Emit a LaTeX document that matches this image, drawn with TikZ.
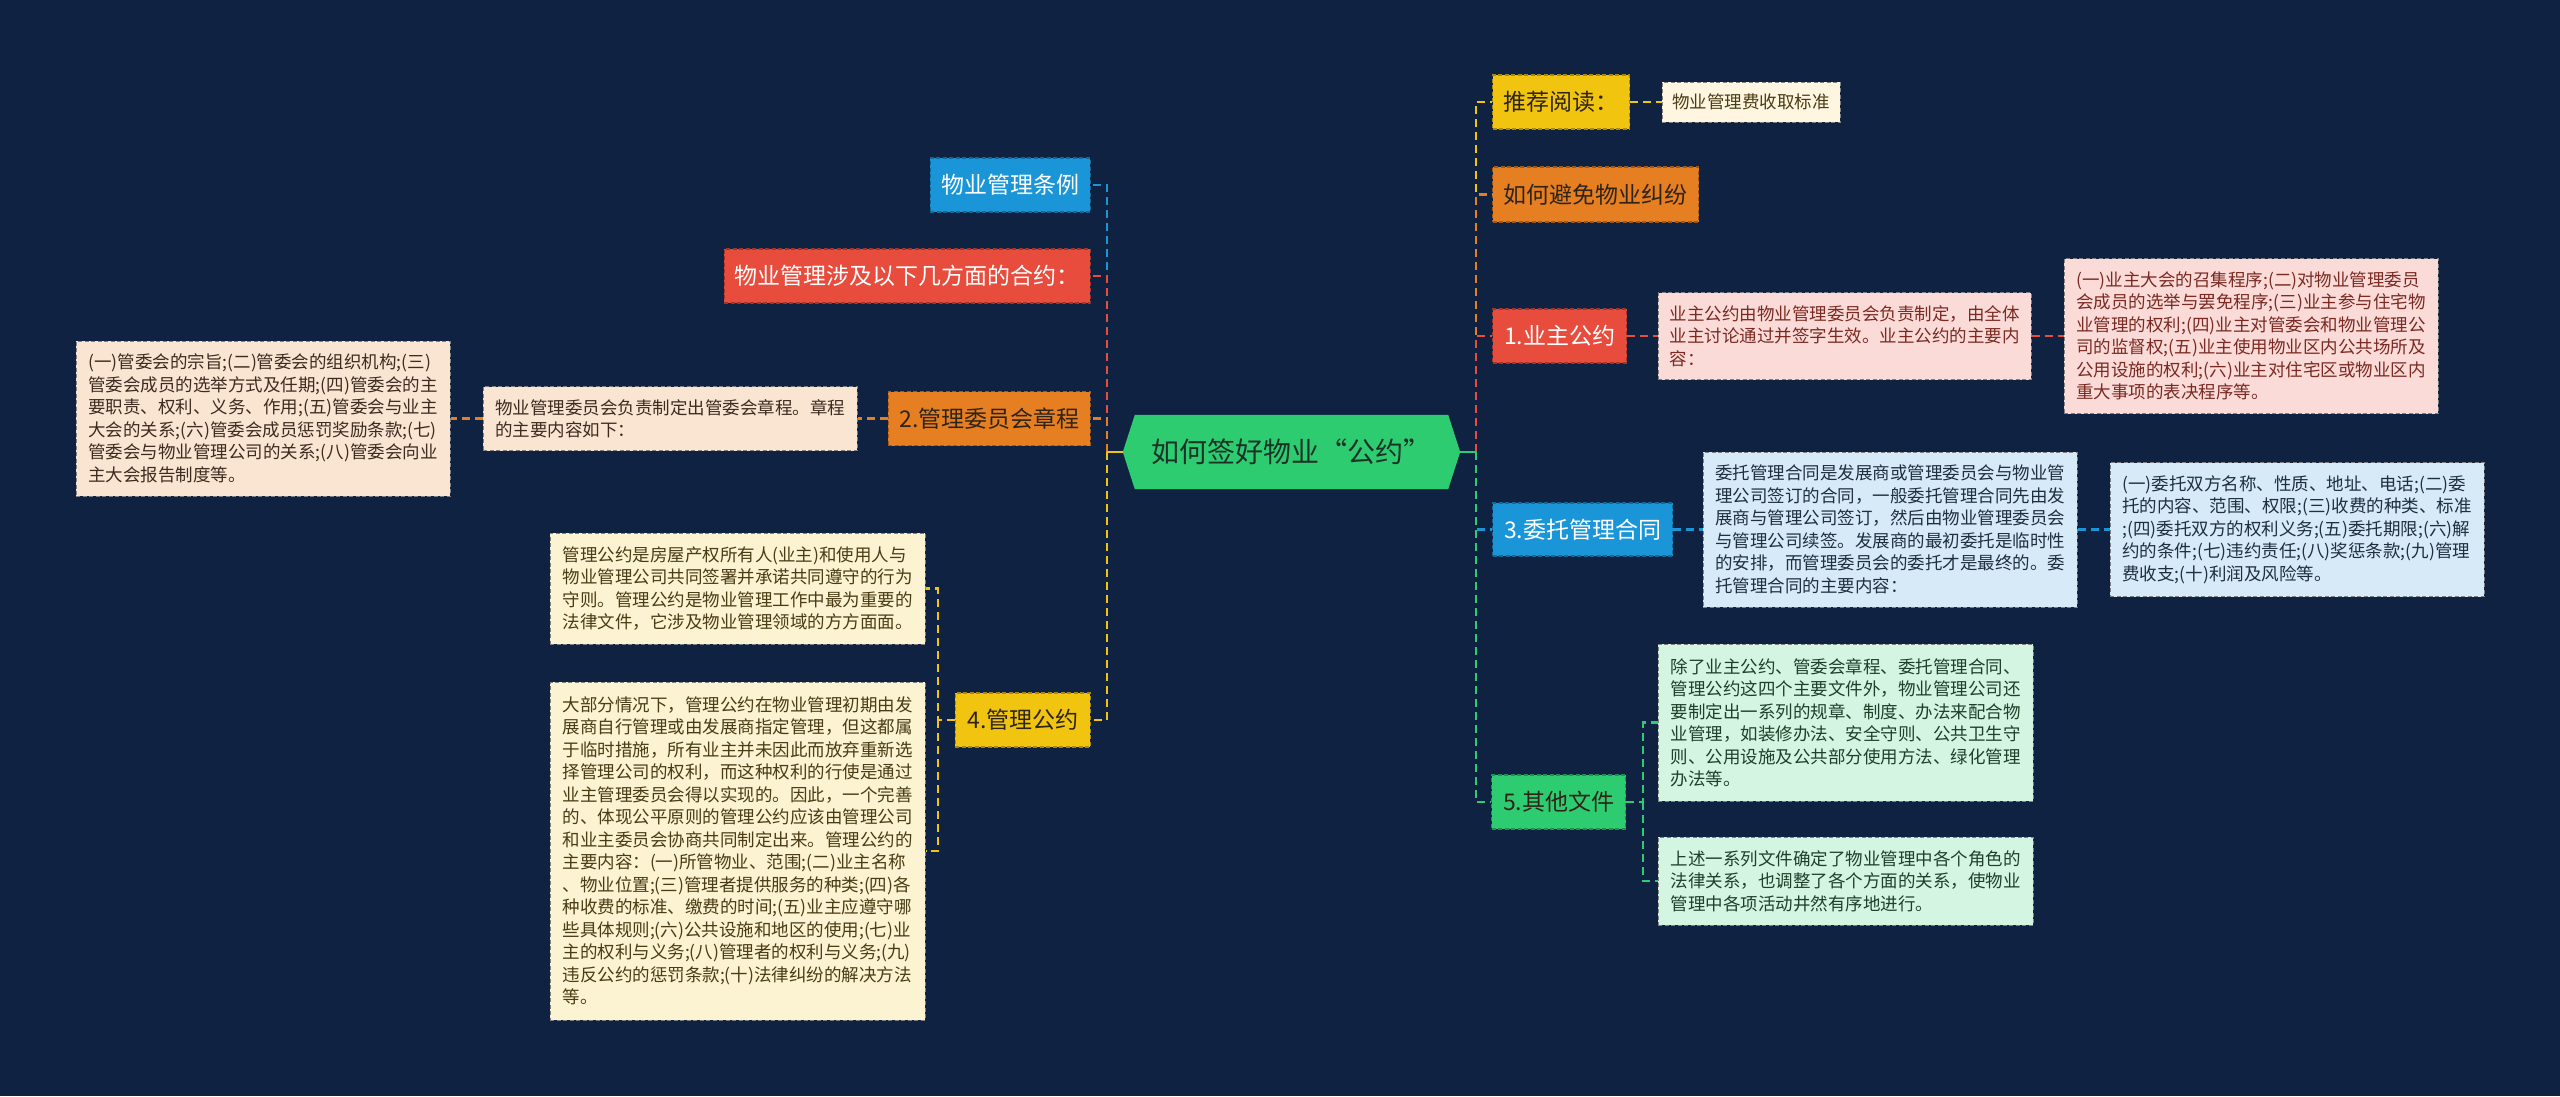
\documentclass[tikz,border=0pt]{standalone}
\usepackage{fontspec}
\setmainfont{Noto Sans CJK SC}
\usetikzlibrary{backgrounds,calc}
\definecolor{bgc}{HTML}{0F2241}
\definecolor{bluec}{HTML}{1A96D8}
\definecolor{redc}{HTML}{E74C3C}
\definecolor{orangec}{HTML}{E67E22}
\definecolor{yellowc}{HTML}{F1C40F}
\definecolor{greenc}{HTML}{2ECC71}
\definecolor{peachf}{HTML}{FAE5D3}
\definecolor{creamf}{HTML}{FCF3D2}
\definecolor{cream2f}{HTML}{FEF6E0}
\definecolor{pinkf}{HTML}{FADBD8}
\definecolor{lbluef}{HTML}{D6EAF8}
\definecolor{lgreenf}{HTML}{D5F5E3}
\definecolor{darkt}{HTML}{2E2418}
\definecolor{peacht}{HTML}{3D2B1F}
\definecolor{creamt}{HTML}{4A3C14}
\definecolor{pinkt}{HTML}{7A2A22}
\definecolor{bluet}{HTML}{1E3040}
\definecolor{greent}{HTML}{1E4028}
\definecolor{roott}{HTML}{1B3326}
\begin{document}
\begin{tikzpicture}[x=1pt,y=-1pt,
  mainbox/.style={rectangle, minimum height=54pt, inner xsep=6pt, inner ysep=0pt,
    font=\fontsize{23}{28}\selectfont, dash pattern=on 4pt off 2.5pt, line width=1.2pt},
  txtbox/.style={rectangle, inner sep=0pt, align=left,
    font=\fontsize{17.5}{22.5}\selectfont, dash pattern=on 4pt off 2.5pt,
    line width=1pt, draw=black!50},
  conn/.style={dash pattern=on 8pt off 5pt, line width=2.4pt},
  stub/.style={line width=2.4pt}]
\useasboundingbox (0,0) rectangle (2560,1096);

% root
\node[minimum width=337pt, minimum height=74pt, inner sep=0pt,
  font=\fontsize{28}{34}\selectfont, text=roott] (root) at (1291.5,452) {如何签好物业“公约”};

% left side
\node[mainbox, fill=bluec, draw=bluec!70!black, text=white, minimum width=160pt, anchor=east] (L1) at (1091,185) {物业管理条例};
\node[mainbox, fill=redc, draw=redc!70!black, text=white, minimum width=366pt, anchor=east] (L2) at (1091,276) {物业管理涉及以下几方面的合约：};
\node[mainbox, fill=orangec, draw=orangec!70!black, text=darkt, minimum width=202pt, anchor=east] (L3) at (1091,418.5) {2.管理委员会章程};
\node[mainbox, fill=yellowc, draw=yellowc!70!black, text=darkt, minimum width=135pt, anchor=east] (L4) at (1091,720) {4.管理公约};

\node[txtbox, fill=peachf, text=peacht, minimum width=374pt, minimum height=64pt] (L3a) at (670,418.5)
 {物业管理委员会负责制定出管委会章程。章程\\的主要内容如下：};
\node[txtbox, fill=peachf, text=peacht, minimum width=374pt, minimum height=155pt] (L3b) at (263,418.5)
 {(一)管委会的宗旨;(二)管委会的组织机构;(三)\\管委会成员的选举方式及任期;(四)管委会的主\\要职责、权利、义务、作用;(五)管委会与业主\\大会的关系;(六)管委会成员惩罚奖励条款;(七)\\管委会与物业管理公司的关系;(八)管委会向业\\主大会报告制度等。};
\node[txtbox, fill=creamf, text=creamt, minimum width=375pt, minimum height=111pt] (L4a) at (737.5,588.5)
 {管理公约是房屋产权所有人(业主)和使用人与\\物业管理公司共同签署并承诺共同遵守的行为\\守则。管理公约是物业管理工作中最为重要的\\法律文件，它涉及物业管理领域的方方面面。};
\node[txtbox, fill=creamf, text=creamt, minimum width=375pt, minimum height=338pt] (L4b) at (737.5,851)
 {大部分情况下，管理公约在物业管理初期由发\\展商自行管理或由发展商指定管理，但这都属\\于临时措施，所有业主并未因此而放弃重新选\\择管理公司的权利，而这种权利的行使是通过\\业主管理委员会得以实现的。因此，一个完善\\的、体现公平原则的管理公约应该由管理公司\\和业主委员会协商共同制定出来。管理公约的\\主要内容：(一)所管物业、范围;(二)业主名称\\、物业位置;(三)管理者提供服务的种类;(四)各\\种收费的标准、缴费的时间;(五)业主应遵守哪\\些具体规则;(六)公共设施和地区的使用;(七)业\\主的权利与义务;(八)管理者的权利与义务;(九)\\违反公约的惩罚条款;(十)法律纠纷的解决方法\\等。};

% right side
\node[mainbox, fill=yellowc, draw=yellowc!70!black, text=darkt, minimum width=137pt, anchor=west] (R1) at (1492,102) {推荐阅读：};
\node[mainbox, fill=orangec, draw=orangec!70!black, text=darkt, minimum width=206pt, minimum height=55pt, anchor=west] (R2) at (1492,194.5) {如何避免物业纠纷};
\node[mainbox, fill=redc, draw=redc!70!black, text=white, minimum width=134pt, anchor=west] (R3) at (1492,336) {1.业主公约};
\node[mainbox, fill=bluec, draw=bluec!70!black, text=white, minimum width=180pt, minimum height=53pt, anchor=west] (R4) at (1492,529.5) {3.委托管理合同};
\node[mainbox, fill=greenc, draw=greenc!70!black, text=darkt, minimum width=134pt, anchor=west] (R5) at (1491,802) {5.其他文件};

\node[txtbox, fill=cream2f, text=creamt, minimum width=178pt, minimum height=40pt] (R1a) at (1751,102) {物业管理费收取标准};
\node[txtbox, fill=pinkf, text=pinkt, minimum width=373pt, minimum height=87pt] (R3a) at (1844.5,336)
 {业主公约由物业管理委员会负责制定，由全体\\业主讨论通过并签字生效。业主公约的主要内\\容：};
\node[txtbox, fill=pinkf, text=pinkt, minimum width=374pt, minimum height=155pt] (R3b) at (2251,336)
 {(一)业主大会的召集程序;(二)对物业管理委员\\会成员的选举与罢免程序;(三)业主参与住宅物\\业管理的权利;(四)业主对管委会和物业管理公\\司的监督权;(五)业主使用物业区内公共场所及\\公用设施的权利;(六)业主对住宅区或物业区内\\重大事项的表决程序等。};
\node[txtbox, fill=lbluef, text=bluet, minimum width=374pt, minimum height=155pt] (R4a) at (1890,529.5)
 {委托管理合同是发展商或管理委员会与物业管\\理公司签订的合同，一般委托管理合同先由发\\展商与管理公司签订，然后由物业管理委员会\\与管理公司续签。发展商的最初委托是临时性\\的安排，而管理委员会的委托才是最终的。委\\托管理合同的主要内容：};
\node[txtbox, fill=lbluef, text=bluet, minimum width=374pt, minimum height=134pt] (R4b) at (2297,529.5)
 {(一)委托双方名称、性质、地址、电话;(二)委\\托的内容、范围、权限;(三)收费的种类、标准\\;(四)委托双方的权利义务;(五)委托期限;(六)解\\约的条件;(七)违约责任;(八)奖惩条款;(九)管理\\费收支;(十)利润及风险等。};
\node[txtbox, fill=lgreenf, text=greent, minimum width=375pt, minimum height=157pt] (R5a) at (1845.5,722.5)
 {除了业主公约、管委会章程、委托管理合同、\\管理公约这四个主要文件外，物业管理公司还\\要制定出一系列的规章、制度、办法来配合物\\业管理，如装修办法、安全守则、公共卫生守\\则、公用设施及公共部分使用方法、绿化管理\\办法等。};
\node[txtbox, fill=lgreenf, text=greent, minimum width=375pt, minimum height=88pt] (R5b) at (1845.5,881)
 {上述一系列文件确定了物业管理中各个角色的\\法律关系，也调整了各个方面的关系，使物业\\管理中各项活动井然有序地进行。};

% junction coordinates
\coordinate (rt) at ($(root.east)+(16,0)$);
\coordinate (lt) at ($(root.west)+(-16,0)$);
\coordinate (r5j) at ($(R5.east)+(17,0)$);
\coordinate (l4j) at ($(L4.west)+(-17,0)$);

% right connectors
\draw[conn, yellowc] (rt) |- (R1.west);
\draw[conn, orangec] (rt) |- (R2.west);
\draw[conn, redc] (rt) |- (R3.west);
\draw[conn, bluec] (rt) |- (R4.west);
\draw[conn, greenc] (rt) |- (R5.west);
\draw[stub, greenc] (root.east) -- (rt);
\draw[conn, yellowc] (R1.east) -- (R1a.west);
\draw[conn, redc] (R3.east) -- (R3a.west);
\draw[conn, redc] (R3a.east) -- (R3b.west);
\draw[conn, bluec] (R4.east) -- (R4a.west);
\draw[conn, bluec] (R4a.east) -- (R4b.west);
\draw[conn, greenc] (R5.east) -- (r5j) |- (R5a.west);
\draw[conn, greenc] (r5j) |- (R5b.west);

% left connectors
\draw[conn, bluec] (lt) |- (L1.east);
\draw[conn, redc] (lt) |- (L2.east);
\draw[conn, orangec] (lt) |- (L3.east);
\draw[conn, yellowc] (lt) |- (L4.east);
\draw[stub, yellowc] (root.west) -- (lt);
\draw[conn, orangec] (L3.west) -- (L3a.east);
\draw[conn, orangec] (L3a.west) -- (L3b.east);
\draw[conn, yellowc] (L4.west) -- (l4j) |- (L4a.east);
\draw[conn, yellowc] (l4j) |- (L4b.east);

\begin{scope}[on background layer]
\fill[bgc] (0,0) rectangle (2560,1096);
\fill[greenc] (root.west) -- ([xshift=12pt]root.north west) -- ([xshift=-12pt]root.north east)
  -- (root.east) -- ([xshift=-12pt]root.south east) -- ([xshift=12pt]root.south west) -- cycle;
\end{scope}
\end{tikzpicture}
\end{document}
